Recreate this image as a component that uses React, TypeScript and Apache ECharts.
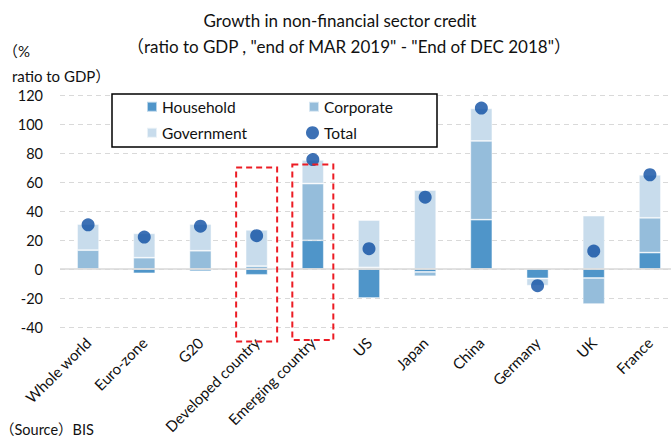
import React, { useEffect, useRef } from "react";
import * as echarts from "echarts";

const categories = [
  "Whole world",
  "Euro-zone",
  "G20",
  "Developed country",
  "Emerging country",
  "US",
  "Japan",
  "China",
  "Germany",
  "UK",
  "France",
];
const household = [0, -3, -1.5, -4, 19.8, -20, -2, 34, -6.5, -6.2, 11.3];
const corporate = [13, 7.8, 12.6, 2, 39.1, 1.1, -3, 54.3, 0, -18, 24];
const government = [18, 16.8, 18.4, 25, 16.3, 32.7, 54.5, 22.5, -5, 36.8, 29.7];
const total = [30.5, 22, 29.5, 23, 75.5, 14, 49.5, 111, -11.5, 12.4, 65];
const yTicks = { min: -40, max: 120, interval: 20 };
// highlighted categories: [index, topValue, bottomValue]
const highlights: [number, number, number][] = [
  [3, 70, -50],
  [4, 72, -49],
];

const F = "Lato, 'Noto Sans CJK JP', sans-serif";
const TXT = "#111";
const C_H = "#4F95C9";
const C_C = "#95BDDB";
const C_G = "#C8DCEC";
const C_T = "#0C4EA2";

export default function App() {
  const ref = useRef<HTMLDivElement>(null);
  useEffect(() => {
    if (!ref.current) return;
    const chart = echarts.init(ref.current, undefined, { renderer: "svg" });
    const legendBase = {
      orient: "vertical",
      itemWidth: 10,
      itemHeight: 10,
      padding: 0,
      selectedMode: false,
      icon: "rect",
      textStyle: { fontSize: 15.5, fontFamily: F, color: TXT },
    };
    const barBase = {
      type: "bar",
      stack: "credit",
      barWidth: 22,
    };
    chart.setOption({
      animation: false,
      grid: { left: 60, right: -7, top: 95, bottom: 111, outerBoundsMode: "none" },
      legend: [
        { ...legendBase, data: ["Household"], left: 146, top: 99 },
        { ...legendBase, data: ["Government"], left: 146, top: 125 },
        { ...legendBase, data: ["Corporate"], left: 308, top: 99 },
        {
          ...legendBase,
          data: [{ name: "Total", icon: "circle" }],
          left: 306,
          top: 125,
          itemWidth: 13,
          itemHeight: 13,
        },
      ],
      xAxis: {
        type: "category",
        data: categories,
        axisLine: { show: false, onZero: false },
        axisTick: { show: false },
        axisLabel: {
          rotate: 45,
          interval: 0,
          margin: 13,
          fontSize: 15,
          fontFamily: F,
          color: TXT,
        },
      },
      yAxis: {
        type: "value",
        min: yTicks.min,
        max: yTicks.max,
        interval: yTicks.interval,
        axisLine: { show: false },
        axisTick: { show: false },
        axisLabel: { fontSize: 14.5, fontFamily: F, color: TXT, margin: 17 },
        splitLine: { lineStyle: { color: "#D9D9D9", type: [5, 4], width: 1 } },
      },
      series: [
        {
          ...barBase,
          name: "Household",
          data: household,
          itemStyle: { color: C_H, borderColor: "rgba(255,255,255,0.6)", borderWidth: 0.8 },
          markLine: {
            silent: true,
            symbol: "none",
            label: { show: false },
            lineStyle: { color: "#D9D9D9", type: "solid", width: 1.5 },
            data: [{ yAxis: 0 }],
          },
        },
        {
          ...barBase,
          name: "Corporate",
          data: corporate,
          itemStyle: { color: C_C, borderColor: "rgba(255,255,255,0.6)", borderWidth: 0.8 },
        },
        {
          ...barBase,
          name: "Government",
          data: government,
          itemStyle: { color: C_G, borderColor: "rgba(255,255,255,0.6)", borderWidth: 0.8 },
        },
        {
          type: "scatter",
          name: "Total",
          data: total,
          symbol: "circle",
          symbolSize: 13,
          itemStyle: { color: C_T },
          z: 5,
        },
      ],
    });

    const boxes = highlights.map(([idx, top, bot]) => {
      const [cx, yt] = chart.convertToPixel({ seriesIndex: 0 }, [idx, top]) as number[];
      const [, yb] = chart.convertToPixel({ seriesIndex: 0 }, [idx, bot]) as number[];
      return {
        type: "rect",
        z: 10,
        shape: { x: cx - 20.5, y: yt, width: 41, height: yb - yt },
        style: { fill: "none", stroke: "#EC1C24", lineWidth: 2, lineDash: [6, 4] },
      };
    });

    chart.setOption({
      graphic: [
        {
          type: "rect",
          z: 3,
          shape: { x: 112, y: 94, width: 325, height: 53 },
          style: { fill: "#fff", stroke: "#000", lineWidth: 1.5 },
        },
        ...boxes,
        {
          type: "text",
          x: 340,
          y: 20,
          style: {
            text: "Growth in non-financial sector credit",
            fontSize: 17,
            fontFamily: F,
            fill: TXT,
            align: "center",
            verticalAlign: "middle",
          },
        },
        {
          type: "text",
          x: 349,
          y: 46,
          style: {
            text: '（ratio to GDP , "end of MAR 2019" - "End of DEC 2018"）',
            fontSize: 17,
            fontFamily: F,
            fill: TXT,
            align: "center",
            verticalAlign: "middle",
          },
        },
        {
          type: "text",
          x: 3,
          y: 51,
          style: { text: "（%", fontSize: 15, fontFamily: F, fill: TXT, verticalAlign: "middle" },
        },
        {
          type: "text",
          x: 12,
          y: 76,
          style: { text: "ratio to GDP）", fontSize: 15, fontFamily: F, fill: TXT, verticalAlign: "middle" },
        },
        {
          type: "text",
          x: 0,
          y: 429,
          style: { text: "（Source）BIS", fontSize: 14.5, fontFamily: F, fill: TXT, verticalAlign: "middle" },
        },
      ],
    });

    return () => chart.dispose();
  }, []);
  return (
    <div
      ref={ref}
      style={{ position: "fixed", left: 0, top: 0, width: 671, height: 438, background: "#fff" }}
    />
  );
}
